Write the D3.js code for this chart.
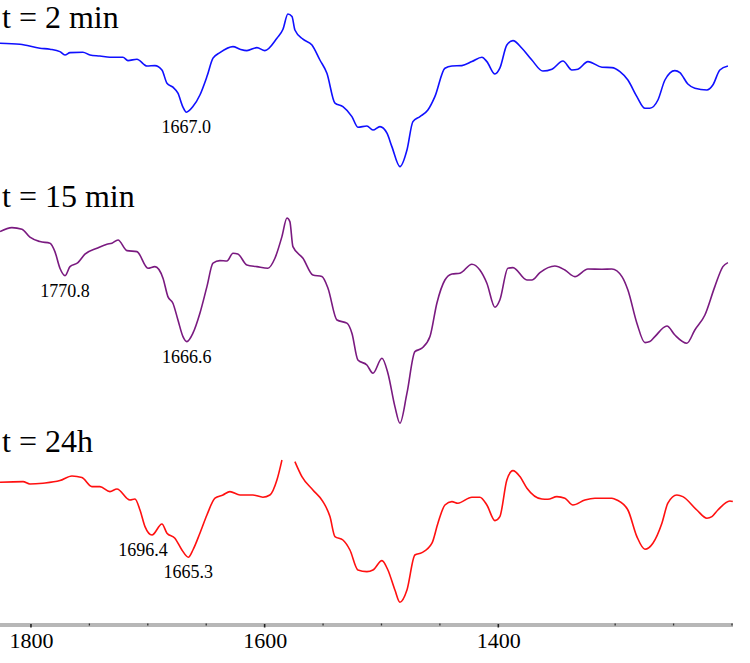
<html lang="en">
<head>
<meta charset="utf-8">
<title>IR spectra over time</title>
<style>
    body { margin: 0; background: #fff; }
    svg { display: block; }
    .title { font-family: "Liberation Serif", "Times New Roman", serif; font-size: 32px; fill: #000; }
    .peak { font-family: "Liberation Serif", "Times New Roman", serif; font-size: 18px; fill: #000; }
    .axis text { font-family: "Liberation Serif", "Times New Roman", serif; font-size: 22px; fill: #000; }
</style>
</head>
<body>
<div id="chart"></div>

<script src="https://cdnjs.cloudflare.com/ajax/libs/d3/7.8.5/d3.min.js"></script>
<script>

    // spectra: [wavenumber cm-1, relative transmittance (a.u.)]
    var spec2min = [
        [1826.5,78.4],[1809.4,77.9],[1792.3,75.9],[1783.7,75.4],[1775.2,74.2],[1770.9,72.5],[1766.6,73.7],
        [1755.5,73.9],[1749.5,72.5],[1741.0,72.0],[1732.4,71.4],[1721.3,71.4],[1717.0,69.7],[1709.3,70.4],
        [1700.7,67.0],[1693.9,67.2],[1687.9,65.0],[1683.6,58.4],[1678.5,56.4],[1674.2,53.4],[1669.9,46.4],
        [1667.0,43.9],[1661.4,46.7],[1655.4,52.5],[1649.4,61.7],[1644.2,70.9],[1638.3,73.7],[1627.1,76.7],
        [1621.1,75.4],[1615.2,74.7],[1606.6,76.2],[1599.8,74.7],[1589.5,80.9],[1584.3,85.4],[1580.1,93.0],
        [1576.6,91.7],[1574.1,85.0],[1567.2,80.4],[1559.5,77.5],[1552.7,70.0],[1546.7,63.4],[1539.8,48.4],
        [1533.0,46.7],[1525.3,41.7],[1520.2,36.4],[1512.5,37.0],[1507.3,35.0],[1501.3,36.7],[1495.3,33.4],
        [1491.1,26.7],[1484.2,16.7],[1478.2,25.0],[1473.1,39.2],[1467.1,41.7],[1460.3,45.0],[1454.3,51.7],
        [1445.7,65.9],[1439.7,67.0],[1431.2,67.2],[1422.6,69.2],[1414.0,71.4],[1409.8,69.2],[1402.9,63.0],
        [1398.7,65.9],[1392.7,77.5],[1387.5,79.7],[1379.8,75.9],[1371.3,70.0],[1361.9,64.5],[1354.1,65.4],
        [1344.7,69.5],[1337.0,65.0],[1331.9,65.4],[1323.3,69.2],[1311.3,66.4],[1302.8,66.2],[1295.9,64.2],
        [1289.1,60.0],[1281.4,51.7],[1274.5,45.9],[1270.3,45.9],[1263.4,50.0],[1257.4,60.0],[1248.9,64.7],
        [1244.6,63.7],[1237.8,58.0],[1231.8,55.9],[1221.5,55.0],[1216.4,57.5],[1210.4,65.0],[1203.5,67.0]
    ];

    var spec15min = [
        [1826.5,99.2],[1816.3,101.2],[1807.7,100.4],[1800.9,96.4],[1792.3,94.2],[1783.7,93.4],[1779.5,89.2],
        [1775.2,80.9],[1770.8,77.2],[1766.6,81.7],[1759.8,83.7],[1753.8,87.9],[1743.5,90.9],[1735.0,92.9],
        [1730.7,93.4],[1725.5,95.0],[1717.8,89.7],[1709.3,89.2],[1699.9,80.9],[1693.9,81.7],[1687.0,75.9],
        [1682.8,66.7],[1678.5,63.4],[1674.2,55.0],[1669.9,46.7],[1666.6,44.2],[1661.4,48.4],[1655.4,58.4],
        [1649.4,71.7],[1644.2,83.4],[1638.3,84.7],[1632.3,84.5],[1627.1,88.4],[1622.9,88.0],[1615.2,82.5],
        [1606.6,81.7],[1597.2,80.9],[1591.2,85.9],[1585.2,96.7],[1580.9,106.0],[1578.4,104.2],[1575.8,91.7],
        [1567.2,85.9],[1558.7,77.5],[1551.0,76.7],[1545.8,70.9],[1538.1,55.0],[1529.6,53.4],[1525.3,48.4],
        [1520.2,35.0],[1512.5,32.5],[1507.3,28.4],[1499.6,35.9],[1494.5,28.4],[1488.5,11.7],[1484.2,3.4],
        [1478.2,18.4],[1471.4,39.2],[1465.4,40.9],[1458.5,46.7],[1452.6,63.4],[1445.7,75.0],[1439.7,78.0],
        [1432.9,78.4],[1422.6,82.9],[1415.8,80.0],[1409.8,73.4],[1402.9,61.4],[1398.7,65.0],[1391.8,80.9],
        [1387.5,81.2],[1375.5,75.0],[1371.3,75.0],[1364.4,78.7],[1351.6,82.0],[1343.0,80.0],[1334.5,76.7],
        [1323.3,80.5],[1311.3,80.4],[1302.8,80.5],[1294.2,76.7],[1289.1,70.0],[1281.4,53.4],[1274.5,43.7],
        [1270.3,44.2],[1266.0,46.7],[1255.7,52.0],[1248.9,47.5],[1238.6,43.4],[1231.8,50.0],[1223.2,57.5],
        [1214.7,71.7],[1207.8,81.7],[1203.5,83.7]
    ];

    // null = off scale (peak top not recorded)
    var spec24h = [
        [1826.5,78.9],[1806.8,79.2],[1800.9,78.0],[1789.7,78.4],[1775.2,79.7],[1764.9,82.0],[1756.4,81.2],
        [1747.8,76.7],[1741.0,76.7],[1732.4,74.2],[1726.4,75.5],[1715.3,70.0],[1711.0,70.5],[1706.7,65.0],
        [1702.4,56.7],[1696.4,52.5],[1687.9,58.0],[1683.6,53.4],[1676.8,50.9],[1670.8,45.0],[1665.3,41.4],
        [1661.4,45.0],[1655.4,53.4],[1649.4,62.5],[1642.5,70.9],[1635.7,72.5],[1629.7,74.2],[1621.1,72.5],
        [1610.0,72.5],[1601.5,71.4],[1595.5,72.5],[1589.5,80.0],[1585.2,90.0],[1580.0,null],[1574.1,89.2],
        [1568.1,81.7],[1558.7,75.0],[1550.1,69.2],[1544.1,61.7],[1539.8,51.7],[1533.0,50.0],[1527.0,45.0],
        [1520.2,35.0],[1512.5,34.2],[1507.3,35.0],[1499.6,39.7],[1494.5,35.0],[1488.5,25.0],[1484.2,18.9],
        [1478.2,25.0],[1471.4,42.5],[1465.4,43.7],[1456.8,48.4],[1451.7,58.4],[1445.7,67.5],[1439.7,69.2],
        [1434.6,68.4],[1422.6,71.4],[1415.8,71.4],[1409.8,67.5],[1402.9,59.7],[1398.7,61.7],[1392.7,80.0],
        [1387.5,84.7],[1381.5,81.7],[1375.5,75.9],[1362.7,70.5],[1357.6,70.4],[1349.9,71.7],[1343.0,70.9],
        [1336.2,67.5],[1325.9,70.0],[1317.3,70.9],[1302.8,70.9],[1298.5,70.0],[1289.1,65.0],[1281.4,51.7],
        [1274.5,45.4],[1267.7,48.4],[1260.0,58.4],[1254.9,68.4],[1247.2,72.5],[1242.1,71.7],[1230.1,65.0],
        [1221.5,60.9],[1217.2,61.7],[1212.1,65.0],[1201.8,69.5],[1199.3,69.2]
    ];

    var seriesNames = ["t = 2 min", "t = 15 min", "t = 24h"];
    var seriesColors = ["#1010ff", "#7a1a80", "#ff1010"];
    var spectra = [spec2min, spec15min, spec24h];

    // peak labels: series index, wavenumber
    var peakSeries = [0, 1, 1, 2, 2];
    var peakWn = [1667.0, 1770.8, 1666.6, 1696.4, 1665.3];
    var peakText = ["1667.0", "1770.8", "1666.6", "1696.4", "1665.3"];

    var majorTicks = [1800, 1600, 1400];
    var minorTicks = [1750, 1700, 1650, 1550, 1500, 1450, 1300, 1250, 1200];

    var fullwidth = 750;
    var fullheight = 663;

    // vertical offset of each stacked panel and where the title baseline sits
    var panelTop = [0, 230, 440];
    var titleY = [28, 207, 452];
    var axisY = 625;

    var svg = d3.select("#chart")
                .append("svg")
                .attr("width", fullwidth)
                .attr("height", fullheight);

    var xScale = d3.scaleLinear()
        .domain([1826.5, 1200])
        .range([0, 732]);

    // 100 units of transmittance over 200 px in every panel
    var yScale = d3.scaleLinear()
        .domain([0, 100])
        .range([200, 0]);

    var line = d3.line()
        .defined(function(d) { return d[1] !== null; })
        .x(function(d) { return xScale(d[0]); })
        .y(function(d) { return yScale(d[1]); })
        .curve(d3.curveMonotoneX);

    var panels = svg.selectAll("g.panel")
        .data(spectra)
        .enter()
        .append("g")
        .attr("class", "panel")
        .attr("transform", function(d, i) { return "translate(0," + panelTop[i] + ")"; });

    panels.append("path")
        .attr("d", line)
        .attr("fill", "none")
        .attr("stroke", function(d, i) { return seriesColors[i]; })
        .attr("stroke-width", 1.6)
        .attr("stroke-linejoin", "round");

    // titles
    svg.selectAll("text.title")
        .data(seriesNames)
        .enter()
        .append("text")
        .attr("class", "title")
        .attr("x", 2)
        .attr("y", function(d, i) { return titleY[i]; })
        .text(function(d) { return d; });

    // peak labels, just below each minimum
    var peakShift = {"1696.4": -9};
    svg.selectAll("text.peak")
        .data(peakText)
        .enter()
        .append("text")
        .attr("class", "peak")
        .attr("text-anchor", "middle")
        .attr("x", function(d, i) { return xScale(peakWn[i]) + (peakShift[d] || 0); })
        .attr("y", function(d, i) {
            var s = spectra[peakSeries[i]];
            var pt = s.find(function(p) { return p[0] === peakWn[i]; });
            return panelTop[peakSeries[i]] + yScale(pt[1]) + 21;
        })
        .text(function(d) { return d; });

    // x axis: thick grey bar with small dark ticks
    var axisG = svg.append("g")
        .attr("class", "axis")
        .attr("transform", "translate(0," + axisY + ")");

    axisG.append("line")
        .attr("x1", xScale.range()[0])
        .attr("x2", xScale.range()[1] + 1)
        .attr("stroke", "#b7b7b7")
        .attr("stroke-width", 4);

    var xAxis = d3.axisBottom(xScale)
        .tickValues(majorTicks)
        .tickSize(0)
        .tickPadding(7)
        .tickFormat(d3.format("d"));

    var ax = axisG.append("g").call(xAxis);
    ax.select(".domain").remove();
    ax.selectAll("text").attr("font-family", null).attr("font-size", null);

    axisG.selectAll("line.major")
        .data(majorTicks)
        .enter()
        .append("line")
        .attr("class", "major")
        .attr("x1", function(d) { return xScale(d); })
        .attr("x2", function(d) { return xScale(d); })
        .attr("y1", -1)
        .attr("y2", 2.5)
        .attr("stroke", "#222")
        .attr("stroke-width", 1.6);

    axisG.selectAll("line.minor")
        .data(minorTicks)
        .enter()
        .append("line")
        .attr("class", "minor")
        .attr("x1", function(d) { return xScale(d); })
        .attr("x2", function(d) { return xScale(d); })
        .attr("y1", -1.5)
        .attr("y2", 0.5)
        .attr("stroke", "#333")
        .attr("stroke-width", 1.3);

</script>
</body>
</html>
